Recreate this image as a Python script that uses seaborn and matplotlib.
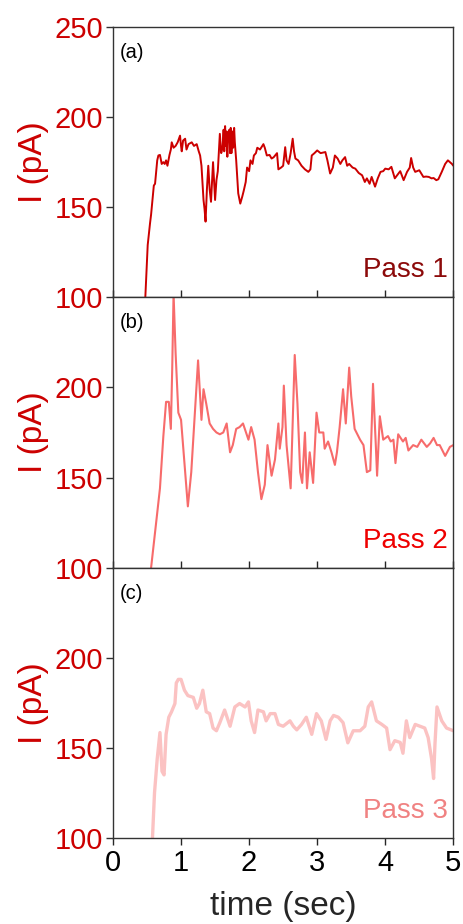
import numpy as np
import pandas as pd
import matplotlib
matplotlib.use("Agg")
import matplotlib.pyplot as plt
import seaborn as sns

# --- data ---
t_pass1 = [0.475, 0.51, 0.544, 0.56, 0.60, 0.618, 0.65, 0.667, 0.69, 0.716,
           0.74, 0.76, 0.78, 0.80, 0.83, 0.85, 0.863, 0.89, 0.92, 0.95,
           0.985, 1.00, 1.01, 1.03, 1.06, 1.08, 1.11, 1.157, 1.19, 1.23,
           1.26, 1.28, 1.30, 1.33, 1.345, 1.36, 1.38, 1.40, 1.42, 1.44,
           1.47, 1.50, 1.52, 1.54, 1.57, 1.59, 1.61, 1.625, 1.635, 1.647,
           1.66, 1.67, 1.68, 1.69, 1.71, 1.72, 1.73, 1.74, 1.755, 1.765,
           1.78, 1.79, 1.81, 1.84, 1.87, 1.90, 1.92, 1.95, 1.97, 2.00,
           2.02, 2.05, 2.07, 2.10, 2.12, 2.16, 2.21, 2.23, 2.26, 2.30,
           2.33, 2.36, 2.41, 2.43, 2.47, 2.50, 2.53, 2.55, 2.58, 2.61,
           2.64, 2.66, 2.68, 2.72, 2.77, 2.82, 2.87, 2.90, 2.92, 2.96,
           3.00, 3.05, 3.12, 3.15, 3.19, 3.23, 3.26, 3.30, 3.34, 3.37,
           3.41, 3.44, 3.47, 3.52, 3.56, 3.61, 3.66, 3.70, 3.73, 3.77,
           3.80, 3.85, 3.89, 3.93, 3.97, 4.00, 4.05, 4.09, 4.14, 4.18,
           4.22, 4.27, 4.32, 4.36, 4.38, 4.41, 4.44, 4.50, 4.56, 4.60,
           4.64, 4.68, 4.71, 4.75, 4.78, 4.83, 4.88, 4.92, 4.95, 4.98, 5.0]
i_pass1 = [100, 129, 141, 146, 162, 163, 176, 178.7, 179, 174,
           175, 174, 176, 173, 179, 182, 186, 183, 184, 186,
           189.7, 184, 181, 187, 188, 182, 185, 186, 184, 185,
           181, 178.7, 173, 154, 149, 142, 160, 173, 160, 153,
           175, 154, 165, 170, 190.7, 180, 183, 193, 181, 195,
           184, 192, 178, 190, 193, 180, 194, 180, 192, 183,
           194, 186, 176, 157.7, 152, 156, 159, 164, 172, 170,
           176, 174, 178.7, 180, 183, 182, 185, 183, 178.7, 179,
           177, 177.7, 180, 171, 172, 173, 183.3, 176, 174, 180,
           188, 181, 177, 176, 173, 171, 169.6, 171, 178.7, 180,
           181.5, 180, 180.6, 176, 168.7, 172, 178.7, 177, 174, 176,
           177.8, 173, 174, 172, 171.4, 169, 167.7, 164, 166, 163,
           166.8, 161.4, 166, 169.6, 170, 171.4, 171, 172.4, 166, 168,
           170, 165, 169.6, 172, 177.3, 172, 169.6, 170.5, 166.8, 167,
           166.8, 166, 166.2, 165, 165.5, 169.6, 174, 176, 175, 174, 173]

t_pass2 = [0.56, 0.64, 0.69, 0.74, 0.78, 0.82, 0.85, 0.87, 0.89, 0.92, 0.96, 1.00,
           1.05, 1.10, 1.15, 1.20, 1.25, 1.30, 1.33, 1.37, 1.42, 1.47, 1.52, 1.57,
           1.62, 1.67, 1.72, 1.76, 1.81, 1.86, 1.91, 1.99, 2.03, 2.08, 2.13, 2.18,
           2.23, 2.27, 2.33, 2.38, 2.43, 2.45, 2.49, 2.51, 2.55, 2.61, 2.63, 2.67,
           2.71, 2.75, 2.78, 2.82, 2.85, 2.89, 2.94, 2.99, 3.03, 3.09, 3.11, 3.16,
           3.21, 3.26, 3.29, 3.33, 3.38, 3.42, 3.47, 3.50, 3.55, 3.63, 3.68, 3.73,
           3.78, 3.82, 3.86, 3.88, 3.92, 3.97, 4.04, 4.08, 4.12, 4.15, 4.19, 4.26,
           4.30, 4.34, 4.41, 4.47, 4.53, 4.61, 4.66, 4.71, 4.76, 4.80, 4.88, 4.95, 5.0]
i_pass2 = [100, 127, 144, 173, 192, 192, 177, 210, 252, 219, 186, 182,
           158, 134, 153, 184, 215, 182, 199, 191, 180, 177, 175, 174,
           175, 180, 164, 168, 177, 178, 180, 171, 178, 171, 153, 138,
           146, 168, 151, 160, 180, 166, 178, 201, 168, 144, 168, 218,
           191, 153, 147, 175, 144, 164, 147, 186, 175, 175, 166, 170,
           164, 157, 164, 178, 199, 180, 211, 195, 177, 171, 168, 153,
           154, 202, 169, 151, 184, 171, 173, 170, 171, 158, 174, 170,
           172, 165, 168, 167, 171, 167, 169, 172, 168, 168, 162, 167, 168]

t_pass3 = [0.58, 0.61, 0.65, 0.69, 0.72, 0.75, 0.78, 0.82, 0.86, 0.91, 0.93, 0.96,
           1.00, 1.05, 1.10, 1.18, 1.23, 1.27, 1.32, 1.37, 1.42, 1.47, 1.52, 1.57,
           1.64, 1.72, 1.79, 1.86, 1.94, 1.99, 2.03, 2.08, 2.13, 2.21, 2.25, 2.31,
           2.38, 2.43, 2.50, 2.60, 2.65, 2.70, 2.77, 2.84, 2.92, 2.99, 3.06, 3.13,
           3.19, 3.24, 3.31, 3.38, 3.45, 3.53, 3.63, 3.70, 3.75, 3.80, 3.87, 3.95,
           4.02, 4.07, 4.14, 4.22, 4.26, 4.31, 4.36, 4.44, 4.51, 4.58, 4.63, 4.68,
           4.71, 4.73, 4.76, 4.83, 4.90, 5.0]
i_pass3 = [100, 125, 144, 158.5, 137, 135, 157.5, 167, 170, 174.6, 186, 188,
           188, 182, 179, 178, 172, 174.6, 182, 170, 169, 161, 159.5, 164,
           171, 162, 172.7, 174.6, 172.7, 175.5, 165, 158.5, 171, 170, 165, 169,
           169, 163, 162, 165, 162, 160, 163, 167, 157.5, 169, 165, 154.7,
           165, 168, 167, 164, 152.8, 159.5, 159.5, 162, 172.7, 175.5, 165, 163,
           161, 149, 154, 153, 147, 165, 155.7, 163, 162, 161, 155.7, 144,
           133, 152, 172.7, 165, 161, 159.5]

panel_tags = ["(a)", "(b)", "(c)"]
pass_names = ["Pass 1", "Pass 2", "Pass 3"]
line_colors = ["#cc0000", "#f76b6b", "#fbc2c2"]
text_colors = ["#8c0a0a", "#ee0000", "#f08282"]
line_widths = [1.4, 1.5, 2.4]

sns.set_style("ticks")
plt.rcParams['font.family'] = ['Liberation Sans', 'DejaVu Sans']

fig = plt.figure(figsize=(4.64, 9.24), dpi=100)
gs = fig.add_gridspec(3, 1, left=0.2435, right=0.977, top=0.9708, bottom=0.0931, hspace=0)
axes = [fig.add_subplot(gs[k]) for k in range(3)]

traces = [(t_pass1, i_pass1), (t_pass2, i_pass2), (t_pass3, i_pass3)]
red = "#cc0000"

for k, ax in enumerate(axes):
    tt, ii = traces[k]
    df = pd.DataFrame({"t": tt, "I": ii})
    sns.lineplot(data=df, x="t", y="I", ax=ax, color=line_colors[k],
                 lw=line_widths[k], sort=False, errorbar=None)
    ax.set_xlim(0, 5)
    ax.set_ylim(100, 250)
    ax.set_xticks([0, 1, 2, 3, 4, 5])
    if k == 0:
        ax.set_yticks([100, 150, 200, 250])
    else:
        ax.set_yticks([100, 150, 200])
    ax.tick_params(axis="y", direction="out", length=5, width=1, colors="#333333",
                   labelcolor=red, labelsize=21, pad=2)
    if k < 2:
        ax.tick_params(axis="x", direction="in", length=5, width=1, labelbottom=False)
        ax.set_xlabel("")
    else:
        ax.tick_params(axis="x", direction="out", length=5, width=1, labelsize=21,
                       labelcolor="black", pad=3)
        ax.set_xlabel("time (sec)", fontsize=24, labelpad=10)
    ax.set_ylabel("I (pA)", fontsize=24, color=red, labelpad=4)
    for sp in ax.spines.values():
        sp.set_visible(True)
        sp.set_color("#333333")
        sp.set_linewidth(1.0)
    ax.text(0.02, 0.905, panel_tags[k], transform=ax.transAxes, fontsize=14.5,
            ha="left", va="center", color="black")
    ax.text(0.985, 0.1, pass_names[k], transform=ax.transAxes, fontsize=20,
            ha="right", va="center", color=text_colors[k])

fig.savefig("out.png", dpi=100)
